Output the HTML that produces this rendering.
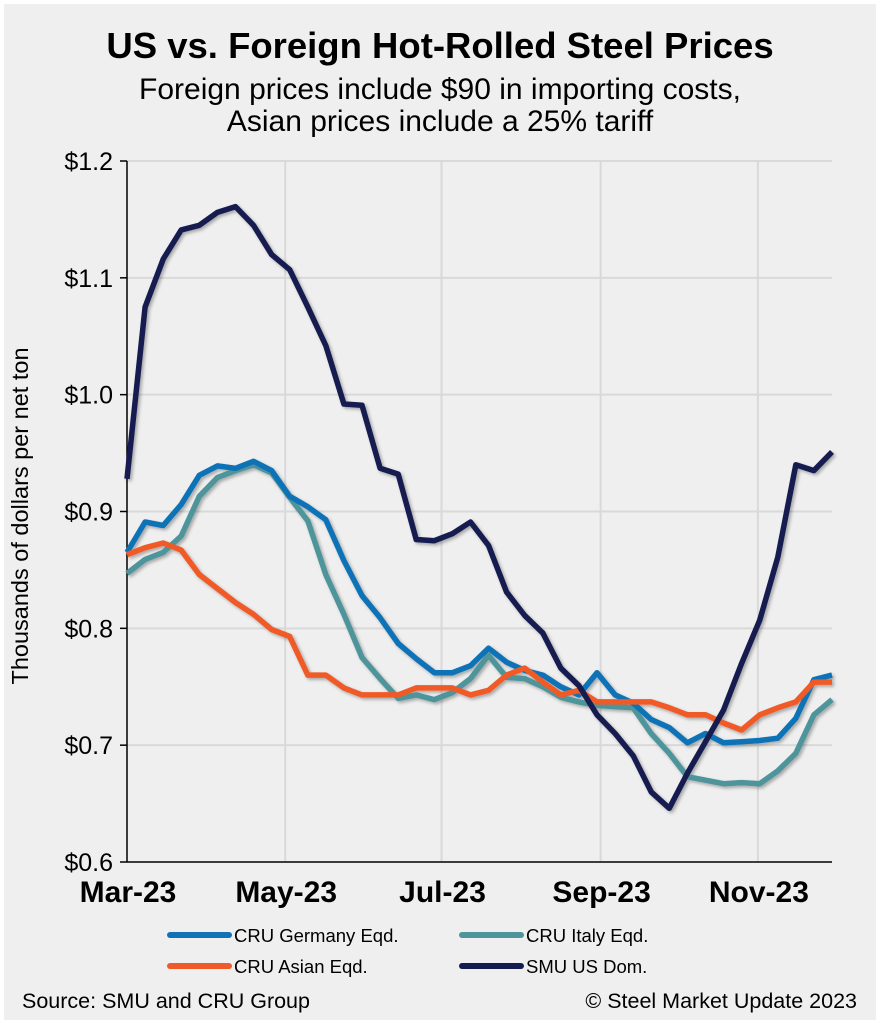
<!DOCTYPE html>
<html><head><meta charset="utf-8"><style>
html,body{margin:0;padding:0;background:#fff}
svg{display:block;font-family:"Liberation Sans",Arial,sans-serif}
</style></head><body>
<svg id="chart" width="880" height="1024" viewBox="0 0 880 1024">
<defs><filter id="sh" x="-5%" y="-5%" width="110%" height="110%"><feDropShadow dx="2" dy="2" stdDeviation="1.5" flood-color="#000" flood-opacity="0.3"/></filter></defs>
<rect x="4" y="4" width="872" height="1016" fill="#efefef"/>
<text x="440" y="58" text-anchor="middle" font-size="36.5" font-weight="bold" fill="#000">US vs. Foreign Hot-Rolled Steel Prices</text>
<text x="440" y="99" text-anchor="middle" font-size="30" fill="#000">Foreign prices include $90 in importing costs,</text>
<text x="440" y="131" text-anchor="middle" font-size="30" fill="#000">Asian prices include a 25% tariff</text>
<text transform="translate(28,516) rotate(-90)" text-anchor="middle" font-size="23.5" fill="#000">Thousands of dollars per net ton</text>
<g id="grid"></g><g id="axes"></g><g id="series" filter="url(#sh)"></g>
<g>
<g><line x1="170" y1="935" x2="229" y2="935" stroke="#1172b6" stroke-width="6" stroke-linecap="round"/><text x="234" y="942" font-size="18.5">CRU Germany Eqd.</text></g>
<g><line x1="462" y1="935" x2="521" y2="935" stroke="#4e949b" stroke-width="6" stroke-linecap="round"/><text x="526" y="942" font-size="18.5">CRU Italy Eqd.</text></g>
<g><line x1="170" y1="966" x2="229" y2="966" stroke="#f05a28" stroke-width="6" stroke-linecap="round"/><text x="234" y="973" font-size="18.5">CRU Asian Eqd.</text></g>
<g><line x1="462" y1="966" x2="521" y2="966" stroke="#141c4f" stroke-width="6" stroke-linecap="round"/><text x="526" y="973" font-size="18.5">SMU US Dom.</text></g>
</g>
<text x="22" y="1008" font-size="21.5">Source: SMU and CRU Group</text>
<text x="857" y="1008" font-size="21.5" text-anchor="end">© Steel Market Update 2023</text>
</svg>
<script>
const yTicks=[0.6,0.7,0.8,0.9,1.0,1.1,1.2];
const yTickLabels=["$0.6","$0.7","$0.8","$0.9","$1.0","$1.1","$1.2"];
const xTickIdx=[0,8.75,17.4,26.2,34.9];
const xTickLabels=["Mar-23","May-23","Jul-23","Sep-23","Nov-23"];
const smu=[0.928,1.075,1.116,1.141,1.145,1.156,1.161,1.145,1.12,1.107,1.075,1.042,0.992,0.991,0.937,0.932,0.876,0.875,0.881,0.891,0.871,0.831,0.811,0.796,0.766,0.751,0.726,0.710,0.691,0.660,0.646,0.676,0.703,0.730,0.770,0.807,0.861,0.940,0.935,0.951];
const germany=[0.865,0.891,0.888,0.906,0.931,0.939,0.937,0.943,0.935,0.913,0.904,0.893,0.858,0.828,0.809,0.787,0.774,0.762,0.762,0.768,0.783,0.771,0.764,0.760,0.750,0.743,0.762,0.743,0.736,0.722,0.715,0.702,0.710,0.702,0.703,0.704,0.706,0.723,0.756,0.760];
const italy=[0.847,0.859,0.865,0.879,0.913,0.929,0.935,0.940,0.933,0.912,0.892,0.846,0.812,0.775,0.757,0.740,0.743,0.739,0.745,0.757,0.777,0.758,0.757,0.750,0.741,0.737,0.734,0.733,0.732,0.710,0.693,0.673,0.670,0.667,0.668,0.667,0.678,0.693,0.726,0.739];
const asian=[0.863,0.869,0.873,0.867,0.846,0.834,0.822,0.812,0.799,0.793,0.760,0.760,0.749,0.743,0.743,0.743,0.749,0.749,0.749,0.743,0.747,0.760,0.766,0.754,0.743,0.747,0.737,0.737,0.737,0.737,0.732,0.726,0.726,0.719,0.713,0.726,0.732,0.737,0.754,0.754];
const X0=127,X1=832,Y0=862,Y1=161,N=smu.length;
const xs=i=>X0+i*(X1-X0)/(N-1);
const ys=v=>Y0-(v-0.6)/(1.2-0.6)*(Y0-Y1);
const NS="http://www.w3.org/2000/svg";
function mk(t,a,p){const e=document.createElementNS(NS,t);for(const k in a)e.setAttribute(k,a[k]);p.appendChild(e);return e;}
const grid=document.getElementById('grid'),axes=document.getElementById('axes'),ser=document.getElementById('series');
yTicks.forEach((v,i)=>{
 if(i>0){const g=mk('line',{x1:X0,x2:X1,y1:ys(v),y2:ys(v),stroke:'#d9d9d9','stroke-width':2},grid);
 
 }
 const t=mk('line',{x1:X0-7,x2:X0,y1:ys(v),y2:ys(v),stroke:'#000','stroke-width':1.5},axes);
 
 
 const l=mk('text',{x:113,y:ys(v)+9,'text-anchor':'end','font-size':25},axes);
 l.textContent=yTickLabels[i];
 
 
});
xTickIdx.forEach((d,i)=>{
 if(i>0){const g=mk('line',{x1:xs(d),x2:xs(d),y1:Y1,y2:Y0,stroke:'#d9d9d9','stroke-width':2},grid);
 
 }
 const l=mk('text',{x:xs(d)+1,y:902,'text-anchor':'middle','font-size':30,'font-weight':'bold'},axes);
 l.textContent=xTickLabels[i];
 
 
});
const ya=mk('line',{x1:X0,x2:X0,y1:Y1,y2:Y0,stroke:'#000','stroke-width':1.5},axes);


const xa=mk('line',{x1:X0,x2:X1,y1:Y0,y2:Y0,stroke:'#000','stroke-width':1.5},axes);


function line(data,color,name){
 const p=mk('polyline',{points:data.map((v,i)=>xs(i).toFixed(1)+','+ys(v).toFixed(1)).join(' '),fill:'none',stroke:color,'stroke-width':5.5,'stroke-linejoin':'round'},ser);
 
 
}
line(italy,'#4e949b','series-cru-italy');
line(germany,'#1172b6','series-cru-germany');
line(asian,'#f05a28','series-cru-asian');
line(smu,'#141c4f','series-smu-us');
</script>
</body></html>
